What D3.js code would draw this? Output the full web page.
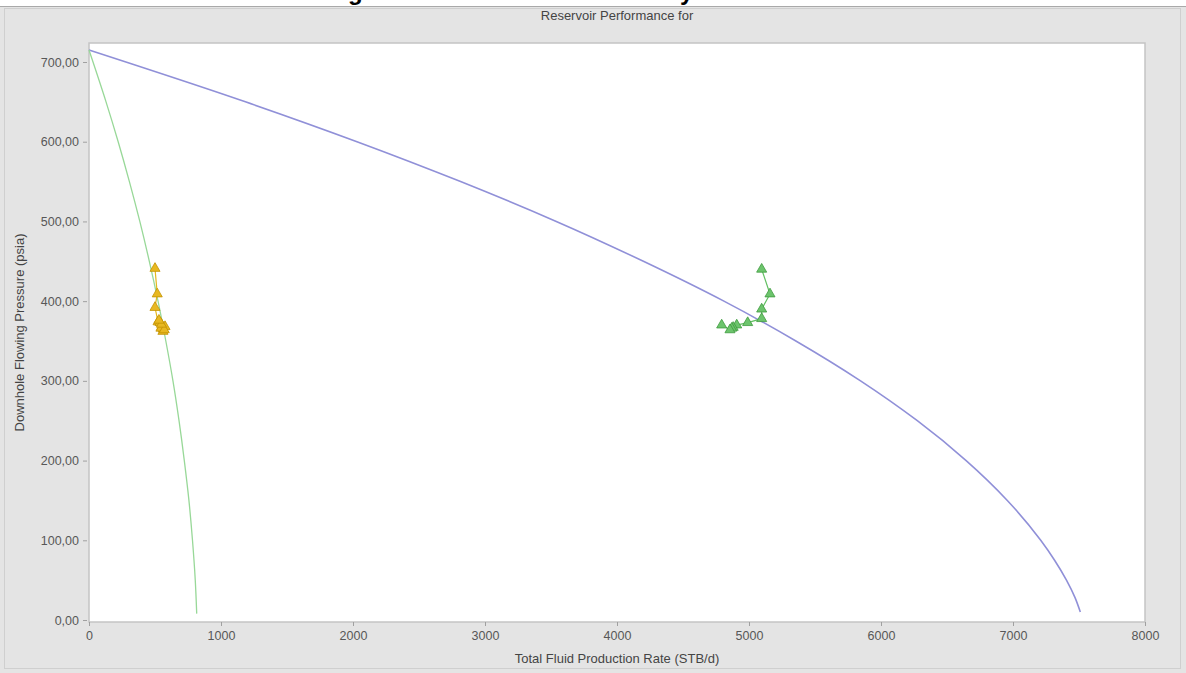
<!DOCTYPE html>
<html>
<head>
<meta charset="utf-8">
<script src="https://cdn.jsdelivr.net/npm/d3@7"></script>
<style>
  html, body { margin: 0; padding: 0; background: #ffffff; }
  svg { display: block; font-family: "Liberation Sans", Arial, sans-serif; }
</style>
</head>
<body>
<svg id="chart" width="1186" height="673"></svg>
<script>
// Reservoir IPR curves (rate in STB/d, pressure in psia)
const upperIprRate     = [0, 1185, 2030, 2815, 3540, 4200, 4810, 5355, 5845, 6275, 6645, 6957, 7210, 7315, 7405, 7470, 7510];
const upperIprPressure = [715, 650, 600, 550, 500, 450, 400, 350, 300, 250, 200, 150, 100, 75, 50, 28, 10];

const lowerIprRate     = [0, 129, 221, 306, 385, 457, 523, 582, 636, 682, 722, 757, 784, 805, 816];
const lowerIprPressure = [715, 650, 600, 550, 500, 450, 400, 350, 300, 250, 200, 150, 100, 50, 8];

// Measured well test points
const greenTestRate     = [5096, 5159, 5096, 5096, 4990, 4907, 4880, 4869, 4856, 4793];
const greenTestPressure = [440, 409, 390, 378, 373, 370, 367, 366, 364, 370];

const yellowTestRate     = [500, 517, 500, 523, 538, 551, 563, 576, 560, 545, 570, 548, 530];
const yellowTestPressure = [441, 409, 392, 374, 373, 368, 365, 368, 362, 366, 364, 371, 376];

// Axis ticks and labels
const xTickValues = [0, 1000, 2000, 3000, 4000, 5000, 6000, 7000, 8000];
const yTickValues = [0, 100, 200, 300, 400, 500, 600, 700];
const yTickLabels = ["0,00", "100,00", "200,00", "300,00", "400,00", "500,00", "600,00", "700,00"];

const chartTitle = "Reservoir Performance for";
const xAxisTitle = "Total Fluid Production Rate (STB/d)";
const yAxisTitle = "Downhole Flowing Pressure (psia)";

const svg = d3.select("#chart");
const W = 1186, H = 673;

// Clipped heading line of the surrounding document (only descenders show)
svg.append("text").attr("x", 348).attr("y", 0).attr("font-size", 24).attr("font-weight", "bold")
  .attr("font-family", "Liberation Sans, Arial, sans-serif").attr("fill", "#000").text("g");
svg.append("text").attr("x", 680).attr("y", 0).attr("font-size", 24).attr("font-weight", "bold")
  .attr("font-family", "Liberation Sans, Arial, sans-serif").attr("fill", "#000").text("y");

// Grey chart panel
svg.append("rect").attr("x", 0).attr("y", 6).attr("width", W).attr("height", H - 6).attr("fill", "#e4e4e4");
svg.append("line").attr("x1", 0).attr("x2", W).attr("y1", 6.5).attr("y2", 6.5).attr("stroke", "#a9a9a9");
svg.append("rect").attr("x", 4.5).attr("y", 8.5).attr("width", 1176).attr("height", 660)
  .attr("fill", "none").attr("stroke", "#cfcfcf");

const plot = { left: 89, right: 1145, top: 43, bottom: 622 };

const x = d3.scaleLinear().domain([0, 8000]).range([plot.left, plot.right]);
const y = d3.scaleLinear().domain([0, 700]).range([620, 62]);

// Plot area
svg.append("rect")
  .attr("x", plot.left).attr("y", plot.top)
  .attr("width", plot.right - plot.left).attr("height", plot.bottom - plot.top)
  .attr("fill", "#ffffff").attr("stroke", "#c4c4c4").attr("stroke-width", 1.5);

// Axes
const xAxis = d3.axisBottom(x).tickValues(xTickValues).tickFormat(d3.format("d")).tickSize(4).tickPadding(5);
const yAxis = d3.axisLeft(y).tickValues(yTickValues).tickFormat((d, i) => yTickLabels[i]).tickSize(4).tickPadding(4);

const gx = svg.append("g").attr("transform", `translate(0,${plot.bottom})`).call(xAxis);
const gy = svg.append("g").attr("transform", `translate(${plot.left - 2},0)`).call(yAxis);
[gx, gy].forEach(g => {
  g.select(".domain").remove();
  g.selectAll(".tick line").attr("stroke", "#a0a0a0");
  g.selectAll(".tick text").attr("fill", "#575757").attr("font-size", 12.5)
    .attr("font-family", "Liberation Sans, Arial, sans-serif");
});

// Titles
svg.append("text").attr("x", 617).attr("y", 20).attr("text-anchor", "middle")
  .attr("font-size", 13).attr("fill", "#444").text(chartTitle);
svg.append("text").attr("x", 617).attr("y", 663).attr("text-anchor", "middle")
  .attr("font-size", 13).attr("fill", "#444").text(xAxisTitle);
svg.append("text").attr("transform", `translate(24,${(plot.top + plot.bottom) / 2}) rotate(-90)`)
  .attr("text-anchor", "middle").attr("font-size", 13).attr("fill", "#444").text(yAxisTitle);

// Pressure falls monotonically along each curve, so interpolate along y
const line = d3.line().x(d => x(d[0])).y(d => y(d[1])).curve(d3.curveMonotoneY);
const zip = (a, b) => a.map((v, i) => [v, b[i]]);

const plotG = svg.append("g");

// IPR curves
plotG.append("path").datum(zip(upperIprRate, upperIprPressure))
  .attr("d", line).attr("fill", "none").attr("stroke", "#9090d8").attr("stroke-width", 1.6);
plotG.append("path").datum(zip(lowerIprRate, lowerIprPressure))
  .attr("d", line).attr("fill", "none").attr("stroke", "#98d898").attr("stroke-width", 1.3);

// Test point series
const tri = d3.symbol().type(d3.symbolTriangle).size(44);
function testSeries(rates, pressures, lineColor, fill, stroke) {
  const pts = zip(rates, pressures);
  plotG.append("path").datum(pts)
    .attr("d", d3.line().x(d => x(d[0])).y(d => y(d[1])))
    .attr("fill", "none").attr("stroke", lineColor).attr("stroke-width", 1.2);
  plotG.selectAll(null).data(pts).enter().append("path")
    .attr("d", tri)
    .attr("transform", d => `translate(${x(d[0])},${y(d[1])})`)
    .attr("fill", fill).attr("stroke", stroke).attr("stroke-width", 0.8);
}
testSeries(greenTestRate, greenTestPressure, "#63c063", "#6cc46c", "#3f9a3f");
testSeries(yellowTestRate, yellowTestPressure, "#e3b81e", "#e8b820", "#c39200");
</script>
</body>
</html>
